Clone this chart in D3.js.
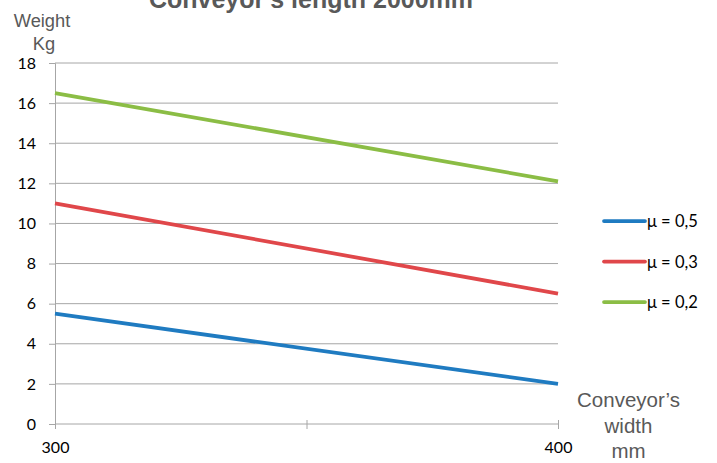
<!DOCTYPE html>
<html><head><meta charset="utf-8">
<script src="https://cdn.jsdelivr.net/npm/d3@7"></script>
<style>body{margin:0;background:#fff}svg{display:block}</style>
</head><body>
<svg id="c" width="717" height="463"></svg>
<script>
const widths = [300, 400];
const seriesNames = ["μ = 0,5", "μ = 0,3", "μ = 0,2"];
const mu05 = [5.5, 2.0];
const mu03 = [11.0, 6.5];
const mu02 = [16.5, 12.1];
const yTicks = [0, 2, 4, 6, 8, 10, 12, 14, 16, 18];
const xTickLabels = ["300", "400"];
const colors = ["#1f7bc1", "#e0474a", "#8bbd45"];

const series = [mu05, mu03, mu02];
const svg = d3.select("#c");
const x = d3.scaleLinear().domain([300, 400]).range([55, 558]);
const y = d3.scaleLinear().domain([0, 18]).range([424, 63]);
const sans = "Liberation Sans, Arial, sans-serif";
const lab = "Lato, sans-serif";

// gridlines
svg.append("g").selectAll("line").data(yTicks.filter(d => d > 0)).join("line")
  .attr("x1", 55).attr("x2", 558).attr("y1", d => y(d)).attr("y2", d => y(d))
  .attr("stroke", "#a6a6a6").attr("stroke-width", 1);

// y axis
const ya = svg.append("g").attr("transform", "translate(55,0)")
  .call(d3.axisLeft(y).tickValues(yTicks).tickSize(6).tickPadding(13).tickFormat(d3.format("d")));
ya.select(".domain").attr("stroke", "#a6a6a6");
ya.selectAll(".tick line").attr("stroke", "#a6a6a6");
ya.selectAll("text").attr("font-family", lab).attr("font-size", 16).attr("fill", "#000");

// x axis
const xa = svg.append("g").attr("transform", "translate(0,424)")
  .call(d3.axisBottom(x).tickValues([300, 350, 400]).tickSize(5).tickPadding(13)
    .tickFormat(d => xTickLabels.includes(String(d)) ? String(d) : ""));
xa.select(".domain").attr("stroke", "#a6a6a6").attr("d", "M55,0H558");
xa.selectAll(".tick line").attr("stroke", "#a6a6a6").attr("y1", -4);
xa.selectAll("text").attr("font-family", lab).attr("font-size", 16).attr("fill", "#000");

// lines
const line = d3.line().x((d, i) => x(widths[i])).y(d => y(d));
series.forEach((s, i) => {
  svg.append("path").attr("d", line(s)).attr("fill", "none")
    .attr("stroke", colors[i]).attr("stroke-width", 3.75);
});

// title
svg.append("text").attr("x", 311).attr("y", 7.5).attr("text-anchor", "middle")
  .attr("font-family", sans).attr("font-weight", "bold")
  .attr("font-size", 25).attr("fill", "#595959").text("Conveyor's length 2000mm");

// y axis title
svg.append("text").attr("x", 42).attr("y", 27).attr("text-anchor", "middle")
  .attr("font-family", sans).attr("font-size", 18.3).attr("fill", "#595959").text("Weight");
svg.append("text").attr("x", 44).attr("y", 50).attr("text-anchor", "middle")
  .attr("font-family", sans).attr("font-size", 18.3).attr("fill", "#595959").text("Kg");

// x axis title
["Conveyor’s", "width", "mm"].forEach((t, i) => {
  svg.append("text").attr("x", 628.5).attr("y", 407 + i * 25.5).attr("text-anchor", "middle")
    .attr("font-family", sans).attr("font-size", 20.5).attr("fill", "#595959").text(t);
});

// legend
const lg = svg.append("g");
seriesNames.forEach((n, i) => {
  const yy = 221 + i * 40.5;
  lg.append("line").attr("x1", 604).attr("x2", 645).attr("y1", yy).attr("y2", yy)
    .attr("stroke", colors[i]).attr("stroke-width", 3.75).attr("stroke-linecap", "round");
  lg.append("text").attr("x", 647).attr("y", yy + 6).attr("font-family", lab)
    .attr("font-size", 16.5).attr("fill", "#000").text(n);
});
</script>
</body></html>
